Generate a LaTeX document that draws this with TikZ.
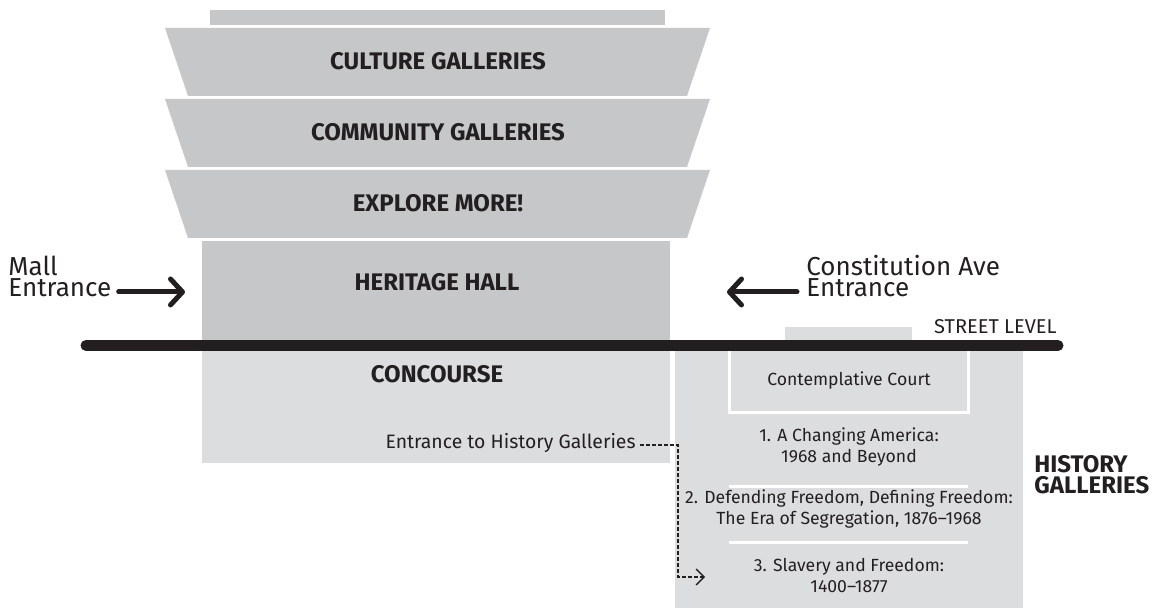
\documentclass[tikz,border=0pt]{standalone}
\usepackage{fontspec}
\setmainfont{Fira Sans}
\usetikzlibrary{arrows.meta,positioning}

\definecolor{hallgray}{HTML}{C6C7C9}
\definecolor{lowgray}{HTML}{DCDDDF}
\definecolor{ink}{HTML}{231F20}

\tikzset{
  floorname/.style={font=\bfseries\fontsize{12}{12}\selectfont, text=ink, inner sep=0pt},
  signtext/.style={font=\fontsize{13}{10.5}\selectfont, text=ink, inner sep=0pt},
  roomtext/.style={font=\fontsize{8.8}{10.5}\selectfont, text=ink, align=center, inner sep=0pt},
  divider/.style={white, line width=1.5pt},
  entry/.style={ink, line width=2.5pt, line cap=round,
    -{Straight Barb[length=6pt,width=13pt,line cap=round,line join=round]}},
}

\begin{document}
\begin{tikzpicture}[x=0.5pt, y=-0.5pt]
    \useasboundingbox (0,0) rectangle (1162,608);

    % upper floors
    \fill[hallgray] (210,10) rectangle (665,25);
    \foreach \top/\bot in {28/96, 99/167, 170/238}
        \fill[hallgray] (165,\top) -- (710,\top) -- (687,\bot) -- (188,\bot) -- cycle;
    \fill[hallgray] (202,241) rectangle (670,346);

    % below street level
    \fill[lowgray] (202,346) rectangle (670,463);
    \fill[lowgray] (675,346) rectangle (1023,608);
    \fill[lowgray] (785,327) rectangle (912,346);
    \draw[divider] (729,346) rectangle (968,413);
    \draw[divider] (729,487) -- (968,487);
    \draw[divider] (729,543) -- (968,543);

    % street level
    \draw[ink, line width=5.5pt, line cap=round] (86,345.5) -- (1058,345.5);
    \node[font=\fontsize{10}{11}\selectfont, text=ink, inner sep=0pt, anchor=base east]
        (street) at (1057,334) {STREET LEVEL};

    % floor names
    \node[floorname, anchor=base] (culture) at (438,70) {CULTURE GALLERIES};
    \node[floorname, anchor=base] (community) at (438,141) {COMMUNITY GALLERIES};
    \node[floorname, anchor=base] (explore) at (438,212) {EXPLORE MORE!};
    \node[floorname, anchor=base] (heritage) at (437,291) {HERITAGE HALL};
    \node[floorname, anchor=base] (concourse) at (437,383) {CONCOURSE};
    \node[floorname, anchor=base west] (historyA) at (1034,473) {HISTORY};
    \node[floorname, anchor=base west] (historyB) at (1034,494) {GALLERIES};

    % history galleries
    \node[roomtext, anchor=base] (court) at (849,386) {Contemplative Court};
    \node[roomtext] (changing) at (849,447) {1. A Changing America:\\1968 and Beyond};
    \node[roomtext] (defending) at (849,509) {2. Defending Freedom, Defining Freedom:\\The Era of Segregation, 1876–1968};
    \node[roomtext] (slavery) at (849,576) {3. Slavery and Freedom:\\1400–1877};

    % entrances
    \node[signtext, anchor=base west] (mallA) at (8,276) {Mall};
    \node[signtext, anchor=base west] (mallB) at (8,297) {Entrance};
    \node[signtext, anchor=base west] (constA) at (806,276) {Constitution Ave};
    \node[signtext, anchor=base west] (constB) at (806,297) {Entrance};
    \coordinate (mallTip) at (185,292);
    \coordinate (constTip) at (727,292);
    \draw[entry] ([shift={(7,-5)}]mallB.base east) -- (mallTip);
    \draw[entry] ([shift={(-9,-5)}]constB.base west) -- (constTip);

    % way down to the history galleries
    \node[font=\fontsize{9.7}{11}\selectfont, text=ink, inner sep=0pt, anchor=base east]
        (histentry) at (636,449) {Entrance to History Galleries};
    \coordinate (drop) at (678,577);
    \coordinate (slaveTip) at (705,577);
    \draw[ink, line width=0.7pt, dash pattern=on 2pt off 1pt,
          -{Straight Barb[length=4pt,width=8pt]}]
        ([shift={(4,-4)}]histentry.base east) -| (drop) -- (slaveTip);
\end{tikzpicture}
\end{document}
